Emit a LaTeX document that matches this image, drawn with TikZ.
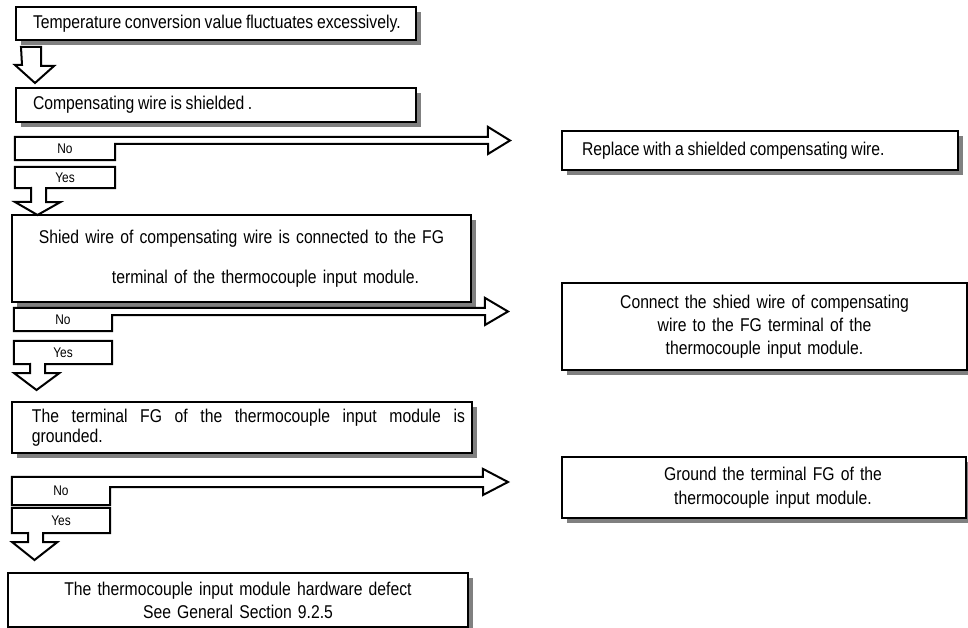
\documentclass[tikz,border=0pt]{standalone}
\usepackage{fontspec}
\setmainfont{Liberation Sans}[FakeStretch=0.85, WordSpace=0.85]
\usetikzlibrary{shadows}
\definecolor{shadowgray}{RGB}{128,128,128}

\begin{document}
\begin{tikzpicture}[x=1pt, y=-1pt,
    stepbox/.style={rectangle, draw, line width=2pt, fill=white, inner ysep=0pt, font=\fontsize{18.5}{19.5}\selectfont, general shadow={fill=shadowgray, shadow xshift=5pt, shadow yshift=-5pt}},
    tab/.style={rectangle, inner sep=0pt, minimum width=98pt, font=\fontsize{14}{16}\selectfont},
    hollow/.style={draw, line width=2pt, line join=miter}
]
\clip (0,0) rectangle (968,628);

% checks down the left side
\node[stepbox, minimum width=400pt, minimum height=33pt, inner xsep=17pt] (chk0) at (216,23.5) {\makebox[366pt][l]{Temperature conversion value fluctuates excessively.}};
\node[stepbox, minimum width=400pt, minimum height=34pt, inner xsep=17pt] (chk1) at (216,105) {\makebox[366pt][l]{Compensating wire is shielded .}};
\node[stepbox, minimum width=459pt, minimum height=87pt, text width=439pt, inner xsep=10pt, align=center] (chk2) at (241.5,258.5) {Shied wire of compensating wire is connected to the FG\\[20pt]\hspace*{48pt}terminal of the thermocouple input module.};
\node[stepbox, minimum width=460pt, minimum height=51pt, text width=446pt, inner xsep=7pt, align=left] (chk3) at (242,427.5) {\hspace*{13pt}\makebox[433pt][s]{The \hfill terminal \hfill FG \hfill of \hfill the \hfill thermocouple \hfill input \hfill module \hfill is}\\\hspace*{13pt}grounded.};
\node[stepbox, minimum width=460pt, minimum height=54pt, text width=440pt, inner xsep=10pt, align=center] (res) at (238,600) {The thermocouple input module hardware defect\hspace*{46pt}\\[3.5pt]See General Section 9.2.5\hspace*{46pt}};

% remedies on the right
\node[stepbox, minimum width=396pt, minimum height=39pt, inner xsep=20pt] (fix1) at (760,150.5) {\makebox[356pt][l]{Replace with a shielded compensating wire.}};
\node[stepbox, minimum width=405pt, minimum height=87pt, text width=385pt, inner xsep=10pt, align=center] (fix2) at (764.5,326.5) {Connect the shied wire of compensating\\[3.5pt]wire to the FG terminal of the\\[3.5pt]thermocouple input module.};
\node[stepbox, minimum width=404pt, minimum height=61pt, text width=384pt, inner xsep=10pt, align=center] (fix3) at (764,487.5) {\hspace*{18pt}Ground the terminal FG of the\\[4.5pt]\hspace*{18pt}thermocouple input module.};

% yes / no tabs
\node[tab, minimum width=100pt, minimum height=23pt] (no1) at (65,148.5) {No};
\node[tab, minimum width=100pt, minimum height=21pt] (yes1) at (65,177.5) {Yes};
\node[tab, minimum height=23pt] (no2) at (63,319.5) {No};
\node[tab, minimum height=23pt] (yes2) at (63,352.5) {Yes};
\node[tab, minimum height=28pt] (no3) at (61,491) {No};
\node[tab, minimum height=25pt] (yes3) at (61,520.5) {Yes};

\coordinate (atip) at (35,83);
\coordinate (tip1) at (510,140.5);
\coordinate (tip2) at (508,311.5);
\coordinate (tip3) at (508,482);
\coordinate (ytip1) at (37.5,215);
\coordinate (ytip2) at (36.5,390);
\coordinate (ytip3) at (34.5,560);

% block arrows
\draw[hollow] ([xshift=6pt,yshift=-6pt]chk0.south west) -- ++(20,0) -- ++(0,19) -- ++(13,0) -- (atip) -- ++(-20,-18) -- ++(7,0) -- cycle;

\draw[hollow] (no1.south west) -- (no1.north west) -- ++(473,0) -- ++(0,-10) -- (tip1) -- ++(-22,13.5) -- ++(0,-10) -| (no1.south east) -- cycle;
\draw[hollow] (yes1.south west) -- (yes1.north west) -- (yes1.north east) -- (yes1.south east) -- ++(-69,0) -- ++(0,14) -- ++(14,0) -- (ytip1) -- ++(-22.5,-13) -- ++(16,0) -- ++(0,-14) -- cycle;

\draw[hollow] (no2.south west) -- (no2.north west) -- ++(471,0) -- ++(0,-10) -- (tip2) -- ++(-23,13.5) -- ++(0,-10) -| (no2.south east) -- cycle;
\draw[hollow] (yes2.south west) -- (yes2.north west) -- (yes2.north east) -- (yes2.south east) -- ++(-67,0) -- ++(0,9) -- ++(14,0) -- (ytip2) -- ++(-22.5,-17) -- ++(16,0) -- ++(0,-9) -- cycle;

\draw[hollow] (no3.south west) -- (no3.north west) -- ++(471,0) -- ++(0,-8) -- (tip3) -- ++(-25,13) -- ++(0,-8) -| (no3.south east) -- cycle;
\draw[hollow] (yes3.south west) -- (yes3.north west) -- (yes3.north east) -- (yes3.south east) -- ++(-67,0) -- ++(0,9) -- ++(14,0) -- (ytip3) -- ++(-22.5,-18) -- ++(16,0) -- ++(0,-9) -- cycle;
\end{tikzpicture}
\end{document}
